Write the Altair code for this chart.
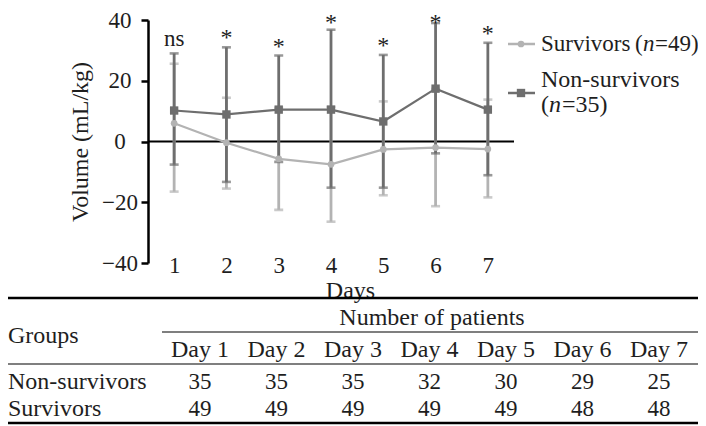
import altair as alt
import pandas as pd

# ---------------- data ----------------
days = [1, 2, 3, 4, 5, 6, 7]

nonsurv_mean = [10.2, 8.9, 10.5, 10.5, 6.6, 17.4, 10.5]
nonsurv_upper = [29.0, 31.0, 28.3, 36.8, 28.5, 39.0, 32.5]
nonsurv_lower = [-7.6, -13.3, -6.7, -15.2, -15.2, -3.9, -11.1]

surv_mean = [6.0, -0.4, -5.7, -7.5, -2.6, -2.0, -2.5]
surv_upper = [25.6, 14.4, 11.1, 11.4, 13.2, 17.3, 13.8]
surv_lower = [-16.5, -15.5, -22.5, -26.4, -17.7, -21.3, -18.4]

sig_labels = ["ns", "*", "*", "*", "*", "*", "*"]

y_ticks = [-40, -20, 0, 20, 40]

legend_names = ["Survivors", "Non-survivors"]
legend_n = [49, 35]

table_groups = ["Non-survivors", "Survivors"]
day_headers = ["Day 1", "Day 2", "Day 3", "Day 4", "Day 5", "Day 6", "Day 7"]
n_nonsurv = [35, 35, 35, 32, 30, 29, 25]
n_surv = [49, 49, 49, 49, 49, 48, 48]

# ---------------- styling ----------------
FONT = "'Liberation Serif', 'Times New Roman', Times, serif"
FS = 23      # digits
FSW = 24     # words
TXT = "#1e1e1e"
DARK = "#6e6e6e"
LIGHT = "#b3b3b3"

W, H = 366, 243
OX, OY = 148, 20  # page position of plot origin


def rx(px):
    return px - OX


def ry(py):
    return py - OY


ns_df = pd.DataFrame({"day": days, "mean": nonsurv_mean,
                      "upper": nonsurv_upper, "lower": nonsurv_lower,
                      "sig": sig_labels})
s_df = pd.DataFrame({"day": days, "mean": surv_mean,
                     "upper": surv_upper, "lower": surv_lower})
one = pd.DataFrame({"k": [0]})

xs = alt.Scale(domain=[0.5, 7.5], nice=False, zero=False)
ys = alt.Scale(domain=[-40, 40], nice=False, zero=False)

x_axis = alt.Axis(values=days, format="d", domain=False, ticks=False, tickSize=0,
                  grid=False, labelPadding=2, labelBaseline="middle",
                  labelFont=FONT, labelFontSize=FS, labelColor=TXT,
                  title="Days", titleFont=FONT, titleFontSize=FSW,
                  titleFontWeight="normal", titleColor=TXT,
                  titleX=rx(350), titleY=290 - (OY + H), titleBaseline="middle",
                  titleAlign="center")
y_axis = alt.Axis(values=y_ticks, format="d", grid=False,
                  domainColor="black", domainWidth=2.5,
                  tickColor="black", tickWidth=2.5, tickSize=7,
                  labelAlign="center", labelPadding=21.5, labelBaseline="middle",
                  labelFont=FONT, labelFontSize=FS, labelColor=TXT,
                  title="Volume (mL/kg)", titleFont=FONT, titleFontSize=FSW,
                  titleFontWeight="normal", titleColor=TXT,
                  titleX=rx(80), titleY=H / 2, titleAngle=270,
                  titleBaseline="middle", titleAlign="center")

X = alt.X("day:Q", scale=xs, axis=x_axis)


def Y(field):
    return alt.Y(f"{field}:Q", scale=ys, axis=y_axis)


def errbars(df, color):
    base = alt.Chart(df)
    rule = base.mark_rule(color=color, strokeWidth=2.8).encode(
        x=X, y=Y("lower"), y2="upper:Q")
    cap_u = base.mark_tick(color=color, orient="horizontal", size=9,
                           thickness=2.6).encode(x=X, y=Y("upper"))
    cap_l = base.mark_tick(color=color, orient="horizontal", size=9,
                           thickness=2.6).encode(x=X, y=Y("lower"))
    return [rule, cap_u, cap_l]


zero = alt.Chart(one).mark_rule(color="black", strokeWidth=2.2).encode(
    y=alt.Y("z:Q", scale=ys, axis=y_axis)).transform_calculate(z="0")

s_line = alt.Chart(s_df).mark_line(color=LIGHT, strokeWidth=2.2).encode(
    x=X, y=Y("mean"))
s_pts = alt.Chart(s_df).mark_point(shape="circle", filled=True, opacity=1,
                                   color=LIGHT, size=45).encode(x=X, y=Y("mean"))
ns_line = alt.Chart(ns_df).mark_line(color=DARK, strokeWidth=2.2).encode(
    x=X, y=Y("mean"))
ns_pts = alt.Chart(ns_df).mark_point(shape="square", filled=True, opacity=1,
                                     color=DARK, size=70).encode(x=X, y=Y("mean"))

sig_ns = alt.Chart(ns_df).transform_filter("datum.sig == 'ns'").mark_text(
    font=FONT, fontSize=FS, color=TXT, baseline="alphabetic", dy=-7).encode(
    x=X, y=Y("upper"), text="sig:N")
# stars sit just above the upper cap; kept inside the canvas at the very top
sig_star = alt.Chart(ns_df).transform_filter("datum.sig != 'ns'").transform_calculate(
    sy="min(datum.upper, 36)").mark_text(
    font=FONT, fontSize=FSW, color=TXT, baseline="alphabetic", dy=-2).encode(
    x=X, y=Y("sy"), text="sig:N")

# ---------------- legend (hand-built to allow italic n) ----------------
def txt(s, px, py, size, align="left", style=None):
    kw = dict(font=FONT, fontSize=size, color=TXT, align=align, baseline="middle")
    if style:
        kw["fontStyle"] = style
    return alt.Chart(one).mark_text(**kw).encode(
        x=alt.value(rx(px)), y=alt.value(ry(py)), text=alt.value(s))


def legend_marker(color, shape, size, py):
    return [
        alt.Chart(one).mark_rule(color=color, strokeWidth=2.5).encode(
            x=alt.value(rx(508)), x2=alt.value(rx(535)), y=alt.value(ry(py))),
        alt.Chart(one).mark_point(shape=shape, filled=True, opacity=1,
                                  color=color, size=size).encode(
            x=alt.value(rx(521)), y=alt.value(ry(py))),
    ]


leg = []
leg += legend_marker(LIGHT, "circle", 45, 44)
leg += [txt(legend_names[0], 541, 44, FS),
        txt("(", 635, 44, FS), txt("n", 643, 44, FS, style="italic"),
        txt(f"={legend_n[0]})", 655, 44, FS)]
leg += legend_marker(DARK, "square", 70, 93)
leg += [txt(legend_names[1], 541, 80, FSW),
        txt("(", 541, 105, FSW), txt("n", 549, 105, FSW, style="italic"),
        txt(f"={legend_n[1]})", 562, 105, FSW)]

plot = alt.layer(
    zero,
    *errbars(s_df, LIGHT),
    *errbars(ns_df, DARK),
    s_line, s_pts, ns_line, ns_pts,
    sig_ns, sig_star,
    *leg,
)

# ---------------- table ----------------
cells = pd.DataFrame({"col": list(range(7)), "head": day_headers,
                      "a": [str(v) for v in n_nonsurv],
                      "b": [str(v) for v in n_surv]})
COL0, COLSTEP = 200, 76.5


def table_text(field, py, size):
    return alt.Chart(cells).transform_calculate(
        px=f"{COL0 - OX} + {COLSTEP} * datum.col").mark_text(
        font=FONT, fontSize=size, color=TXT, align="center", baseline="middle").encode(
        x=alt.X("px:Q", scale=None, axis=None), y=alt.value(ry(py)),
        text=f"{field}:N")


def hline(x1, x2, py, w):
    return alt.Chart(one).mark_rule(color="black", strokeWidth=w).encode(
        x=alt.value(rx(x1)), x2=alt.value(rx(x2)), y=alt.value(ry(py)))


table = alt.layer(
    hline(8, 698, 298, 2.5),
    hline(162, 698, 332, 1.2),
    hline(8, 698, 364, 1.2),
    hline(8, 698, 423, 2.5),
    txt("Number of patients", 432, 318, FSW, align="center"),
    txt("Groups", 8, 336, FSW),
    txt(table_groups[0], 8, 382, FSW),
    txt(table_groups[1], 8, 409, FSW),
    table_text("head", 350, FSW),
    table_text("a", 382, FS),
    table_text("b", 409, FS),
)

chart = alt.layer(plot, table).resolve_scale(x="independent", y="independent").properties(
    width=W, height=H,
    autosize=alt.AutoSizeParams(type="none"),
    padding={"left": OX - 8, "top": OY - 8, "right": 706 - 8 - (OX + W),
             "bottom": 426 - (OY + H)},
).configure(background="white", view=alt.ViewConfig(strokeWidth=0, stroke="transparent"))

chart.save("out.html", embed_options={"renderer": "svg", "actions": False})
